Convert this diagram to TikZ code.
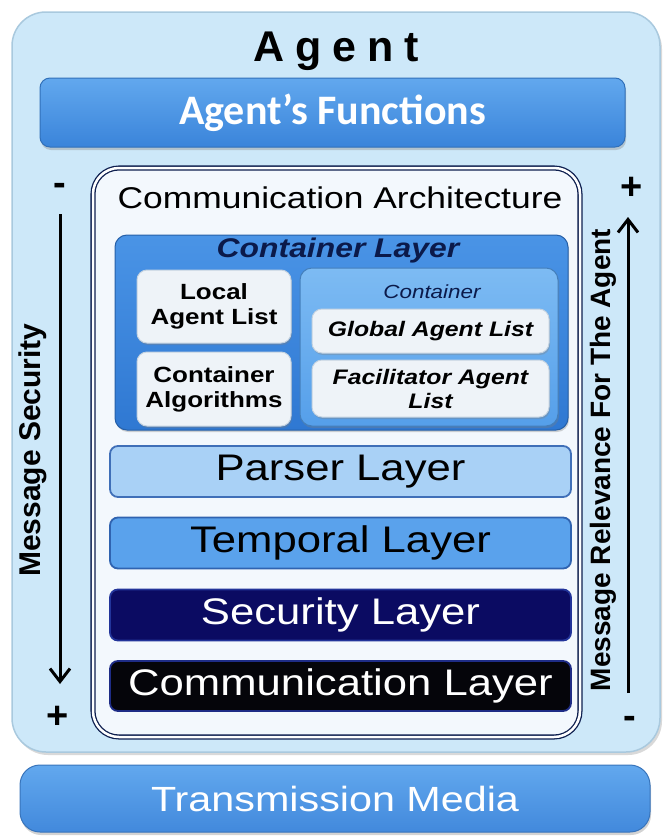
\documentclass[tikz,border=0pt]{standalone}
\usepackage{fontspec}
\setmainfont{Liberation Sans}
\newfontfamily\wfont[FakeStretch=1.18]{Liberation Sans}
\newfontfamily\cfont{Carlito}
\usetikzlibrary{arrows.meta,shadows}

\definecolor{agentbg}{HTML}{CDE8F9}
\definecolor{agentrim}{HTML}{A9C9DE}
\definecolor{funcA}{HTML}{62A8EE}
\definecolor{funcB}{HTML}{3A84DA}
\definecolor{archbg}{HTML}{F3F8FD}
\definecolor{navyrim}{HTML}{0E1F4F}
\definecolor{contA}{HTML}{4A94E6}
\definecolor{contB}{HTML}{2F78D2}
\definecolor{subA}{HTML}{7DBBF3}
\definecolor{subB}{HTML}{559FEA}
\definecolor{cardbg}{HTML}{EEF3F8}
\definecolor{cardrim}{HTML}{C4D2E0}
\definecolor{titlenavy}{HTML}{0B1A4A}
\definecolor{parserbg}{HTML}{A9D1F6}
\definecolor{parserrim}{HTML}{3F6FB8}
\definecolor{tempbg}{HTML}{5AA2EC}
\definecolor{temprim}{HTML}{2F63B0}
\definecolor{secbg}{HTML}{0B0B62}
\definecolor{secrim}{HTML}{22349A}
\definecolor{commbg}{HTML}{05050A}
\definecolor{commrim}{HTML}{1E2C86}
\definecolor{transA}{HTML}{62A8EE}
\definecolor{transB}{HTML}{4289DC}

\begin{document}
\begin{tikzpicture}[x=1pt,y=-1pt,
  panel/.style={rounded corners=#1, inner sep=0pt, align=center},
  card/.style={panel=10pt, fill=cardbg, draw=cardrim, line width=1pt,
    drop shadow={shadow xshift=1pt, shadow yshift=-2pt, opacity=0.35}},
  layerbar/.style={panel=8pt, line width=1.8pt, minimum width=461pt,
    minimum height=51pt, font=\wfont\fontsize{37}{37}\selectfont},
  sign/.style={font=\bfseries\fontsize{38}{38}\selectfont, inner sep=0pt},
  sidelabel/.style={font=\bfseries\fontsize{#1}{#1}\selectfont, rotate=90, inner sep=0pt},
  flow/.style={line width=3pt, -{Straight Barb[length=13pt,width=20pt,line width=3pt]}}]
\useasboundingbox (0,0) rectangle (669,836);

% agent frame
\node[panel=34pt, fill=agentbg, draw=agentrim, line width=1.5pt,
  minimum width=648pt, minimum height=740pt,
  drop shadow={shadow xshift=2pt, shadow yshift=-3pt, opacity=0.3}] (agent) at (336,382) {};
\node[font=\bfseries\fontsize{43}{43}\selectfont, anchor=base] (title) at (336,61)
  {A\kern11pt g\kern11pt e\kern11pt n\kern11pt t};

% agent's functions bar
\node[panel=10pt, top color=funcA, bottom color=funcB, draw=funcB!85!black, line width=1pt,
  minimum width=585pt, minimum height=69pt, text=white,
  font=\cfont\bfseries\fontsize{42}{42}\selectfont,
  drop shadow={shadow xshift=1pt, shadow yshift=-3pt, opacity=0.35}] (funcs) at (332.5,112.5)
  {Agent’s Functions};

% communication architecture frame
\node[panel=26pt, fill=archbg, draw=navyrim, double=white, double distance=2.5pt,
  line width=1.3pt, minimum width=487pt, minimum height=569pt] (arch) at (336.5,452.5) {};
\node[font=\wfont\fontsize{30}{30}\selectfont] (archtitle) at (340,198)
  {Communication Architecture};

% container layer
\node[panel=12pt, top color=contA, bottom color=contB, draw=contB!80!black, line width=1pt,
  minimum width=453pt, minimum height=195pt,
  drop shadow={shadow xshift=1pt, shadow yshift=-2pt, opacity=0.35}] (contlayer) at (341.5,332.5) {};
\node[font=\wfont\bfseries\itshape\fontsize{27}{27}\selectfont, text=titlenavy] (contlayertitle)
  at (338,251) {Container Layer};

\node[card, minimum width=154pt, minimum height=73pt,
  font=\wfont\bfseries\fontsize{22}{25}\selectfont] (local) at (214,306.5)
  {Local\\Agent List};
\node[card, minimum width=154pt, minimum height=74pt,
  font=\wfont\bfseries\fontsize{22}{25}\selectfont] (algo) at (214,389)
  {Container\\Algorithms};

\node[panel=12pt, top color=subA, bottom color=subB, draw=subB!80!black, line width=1pt,
  minimum width=258pt, minimum height=158pt,
  drop shadow={shadow xshift=1pt, shadow yshift=-2pt, opacity=0.35}] (cont) at (429,347) {};
\node[font=\wfont\itshape\fontsize{19}{19}\selectfont, text=titlenavy] (conttitle)
  at (432,292) {Container};
\node[card, minimum width=237pt, minimum height=44pt,
  font=\wfont\bfseries\itshape\fontsize{21}{21}\selectfont] (global) at (430.5,331)
  {Global Agent List};
\node[card, minimum width=237pt, minimum height=57pt,
  font=\wfont\bfseries\itshape\fontsize{21}{24}\selectfont] (facil) at (430.5,388.5)
  {Facilitator Agent\\List};

% protocol stack layers
\node[layerbar, fill=parserbg, draw=parserrim] (parser) at (340.5,471.5) {Parser Layer};
\node[layerbar, fill=tempbg, draw=temprim] (temporal) at (340.5,543) {Temporal Layer};
\node[layerbar, fill=secbg, draw=secrim, text=white] (security) at (340.5,615) {Security Layer};
\node[layerbar, fill=commbg, draw=commrim, text=white, minimum height=50pt] (comm)
  at (340.5,686) {Communication Layer};

% transmission media
\node[panel=20pt, top color=transA, bottom color=transB, draw=transB!85!black, line width=1pt,
  minimum width=630pt, minimum height=67pt, text=white,
  font=\wfont\fontsize{35}{35}\selectfont,
  drop shadow={shadow xshift=1pt, shadow yshift=-3pt, opacity=0.35}] (trans) at (335,798.5)
  {Transmission Media};

% message security scale
\node[sign] (lminus) at (60,189) {-};
\node[sign] (lplus) at (58,717) {+};
\coordinate (ltop) at (60,214);
\coordinate (lbot) at (60,684);
\draw[flow] (ltop) -- (lbot);
\node[sidelabel=30] (lsec) at (33,450) {Message Security};

% message relevance scale
\node[sign] (rplus) at (632,188) {+};
\node[sign] (rminus) at (630,722) {-};
\coordinate (rbot) at (628,693);
\coordinate (rtop) at (628,217);
\draw[flow] (rbot) -- (rtop);
\node[sidelabel=28] (rrel) at (603,460) {Message Relevance For The Agent};
\end{tikzpicture}
\end{document}
